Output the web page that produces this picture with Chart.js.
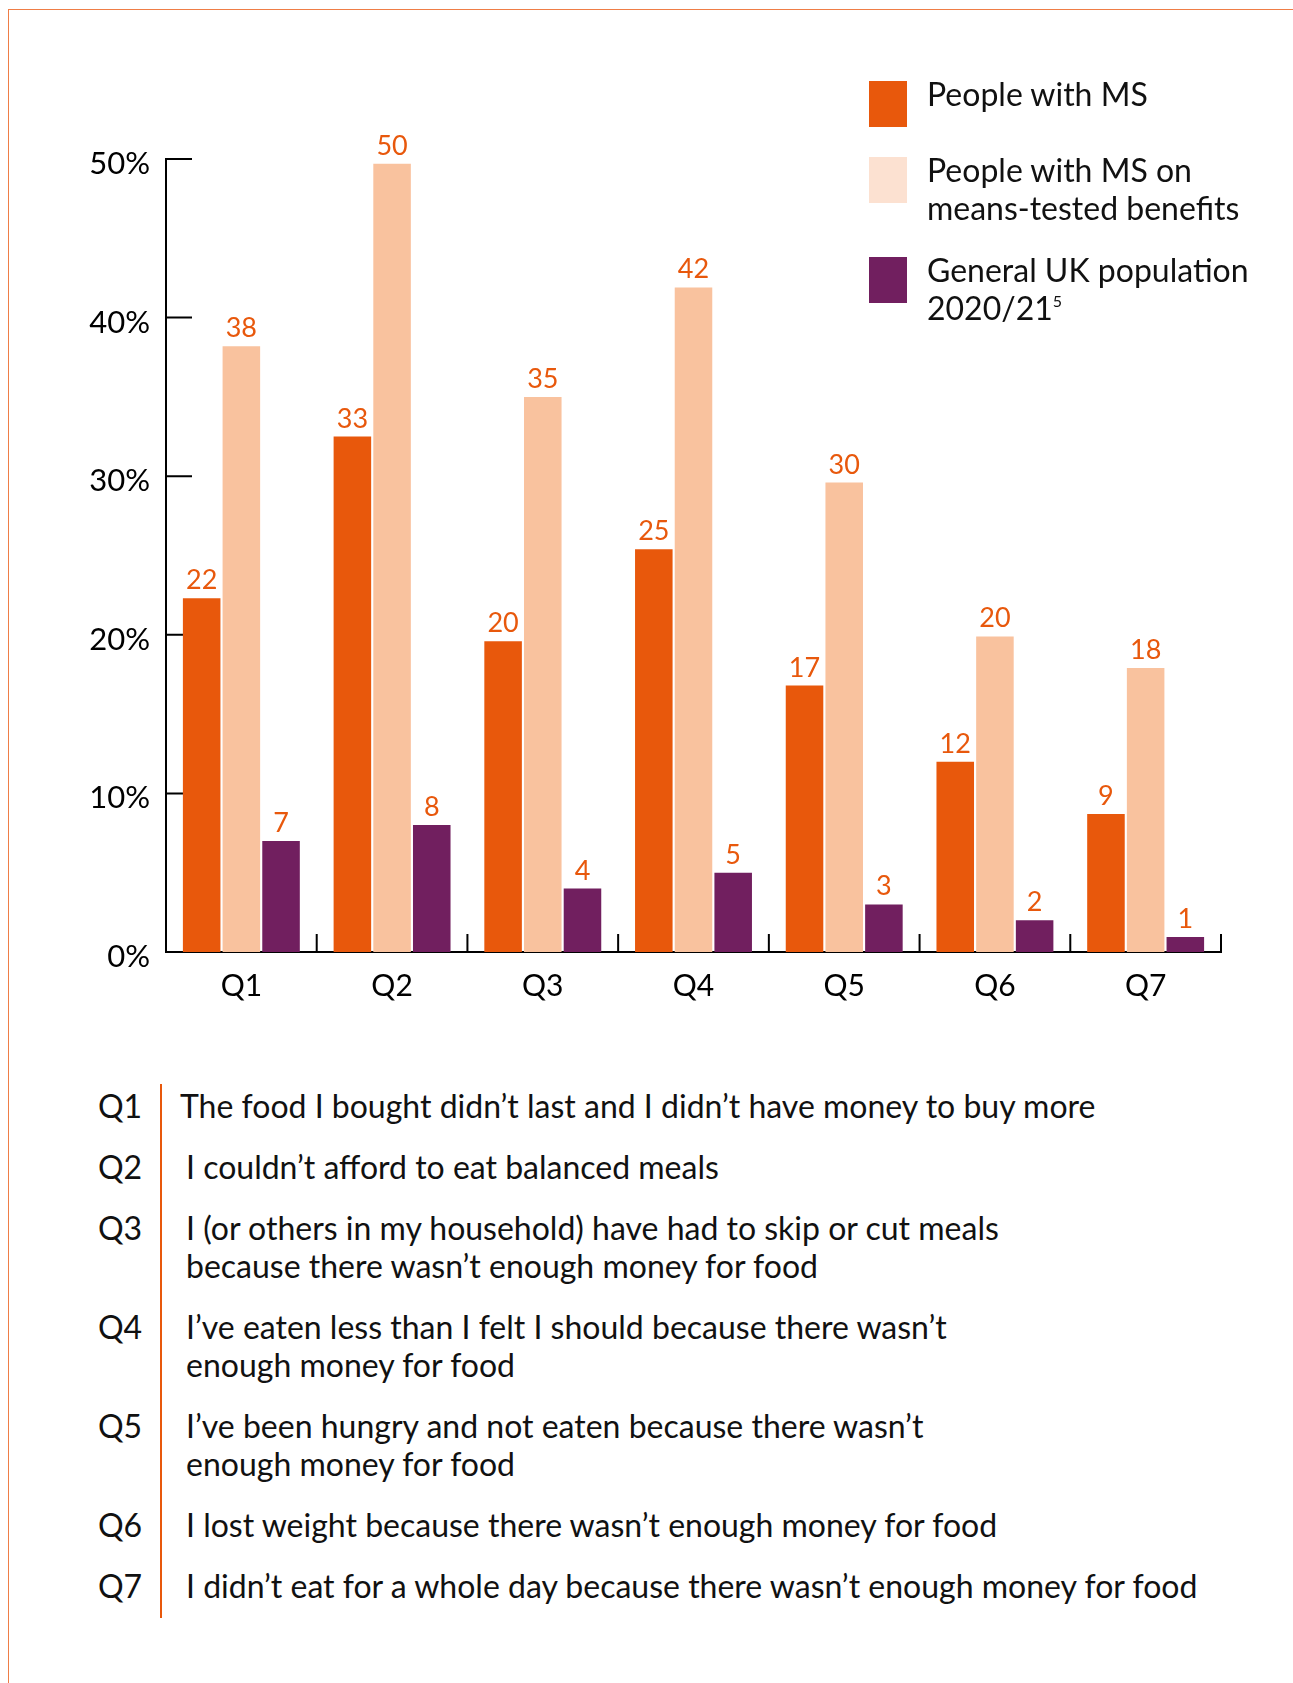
<!DOCTYPE html>
<html>
<head>
<meta charset="utf-8">
<script src="https://cdn.jsdelivr.net/npm/chart.js@4.4.0/dist/chart.umd.min.js"></script>
<style>
  body { margin: 0; background: #fff; font-family: Lato, sans-serif; color: #111; }
  #page { position: relative; width: 1293px; height: 1683px; overflow: hidden; }
  #frame { position: absolute; left: 8px; top: 9px; right: -10px; bottom: -10px;
           border-top: 1.5px solid #ef7d46; border-left: 1.5px solid #ef7d46; }
  #chart { position: absolute; left: 0; top: 0; }
  .leg { position: absolute; left: 869px; }
  .leg .sw { position: absolute; left: 0; top: 0; width: 38px; height: 46px; }
  .leg .tx { position: absolute; left: 58px; top: -6px; font-size: 32px; line-height: 38px; white-space: nowrap; }
  .leg sup { font-size: 16px; vertical-align: 13px; line-height: 0; }
  #notes { position: absolute; left: 0; top: 1087px; width: 1293px; }
  #notes .row { position: relative; margin-bottom: 23px; font-size: 32px; line-height: 38px; }
  #notes .code { position: absolute; left: 98px; top: 0; }
  #notes .txt { margin-left: 186px; white-space: pre; }
  #notes .row:first-child .txt { margin-left: 180px; }
  #rule { position: absolute; left: 160px; top: 1084px; width: 1.5px; height: 534px; background: #e8580c; }
</style>
</head>
<body>
<div id="page">
  <div id="frame"></div>
  <canvas id="chart" width="1293" height="1040"></canvas>
  <div id="legend"></div>
  <div id="rule"></div>
  <div id="notes"></div>
</div>
<script>
// categories and series (percent of respondents)
const categories = ['Q1', 'Q2', 'Q3', 'Q4', 'Q5', 'Q6', 'Q7'];
const peopleWithMS = [22.3, 32.5, 19.6, 25.4, 16.8, 12.0, 8.7];
const msOnBenefits = [38.2, 49.7, 35.0, 41.9, 29.6, 19.9, 17.9];
const generalUK = [7.0, 8.0, 4.0, 5.0, 3.0, 2.0, 0.95];
const yTicks = [0, 10, 20, 30, 40, 50];

const seriesNames = ['People with MS', 'People with MS on\nmeans-tested benefits', 'General UK population\n2020/21'];
const questions = [
  'The food I bought didn\u2019t last and I didn\u2019t have money to buy more',
  'I couldn\u2019t afford to eat balanced meals',
  'I (or others in my household) have had to skip or cut meals\nbecause there wasn\u2019t enough money for food',
  'I\u2019ve eaten less than I felt I should because there wasn\u2019t\nenough money for food',
  'I\u2019ve been hungry and not eaten because there wasn\u2019t\nenough money for food',
  'I lost weight because there wasn\u2019t enough money for food',
  'I didn\u2019t eat for a whole day because there wasn\u2019t enough money for food'
];

const ORANGE = '#e8580c';
const PEACH = '#f9c29e';
const PURPLE = '#711f5f';
const legendColors = [ORANGE, '#fce1d1', PURPLE];

// inward ticks on both axes, drawn beneath the bars
const axisMarks = {
  id: 'axisMarks',
  beforeDatasetsDraw(chart) {
    const { ctx, chartArea, scales: { x, y } } = chart;
    ctx.save();
    ctx.strokeStyle = '#000';
    ctx.lineWidth = 2;
    ctx.beginPath();
    yTicks.forEach(v => {
      const py = y.getPixelForValue(v);
      ctx.moveTo(chartArea.left, py);
      ctx.lineTo(chartArea.left + 26, py);
    });
    for (let i = 1; i <= categories.length; i++) {
      const px = i < categories.length
        ? (x.getPixelForValue(i - 1) + x.getPixelForValue(i)) / 2
        : chartArea.right;
      ctx.moveTo(px, chartArea.bottom - 18);
      ctx.lineTo(px, chartArea.bottom);
    }
    ctx.stroke();
    ctx.restore();
  },
  afterDatasetsDraw(chart) {
    const { ctx } = chart;
    ctx.save();
    ctx.fillStyle = ORANGE;
    ctx.font = '27px Lato';
    ctx.textAlign = 'center';
    ctx.textBaseline = 'alphabetic';
    chart.data.datasets.forEach((ds, di) => {
      chart.getDatasetMeta(di).data.forEach((bar, i) => {
        ctx.fillText(String(Math.round(ds.data[i])), bar.x, bar.y - 9);
      });
    });
    ctx.restore();
  }
};

const barOpts = { barPercentage: 0.946, categoryPercentage: 0.79, borderWidth: 0 };

new Chart(document.getElementById('chart').getContext('2d'), {
  type: 'bar',
  data: {
    labels: categories,
    datasets: [
      { label: seriesNames[0], data: peopleWithMS, backgroundColor: ORANGE, ...barOpts },
      { label: seriesNames[1], data: msOnBenefits, backgroundColor: PEACH, ...barOpts },
      { label: seriesNames[2], data: generalUK, backgroundColor: PURPLE, ...barOpts }
    ]
  },
  options: {
    responsive: false,
    animation: false,
    layout: { padding: { top: 159, right: 72, bottom: 28, left: 0 } },
    plugins: { legend: { display: false }, tooltip: { enabled: false } },
    scales: {
      x: {
        grid: { display: false, drawTicks: false },
        border: { display: true, color: '#000', width: 2 },
        ticks: { color: '#000', font: { family: 'Lato', size: 30 }, padding: 16 },
        afterFit(s) { s.height = 60; }
      },
      y: {
        min: 0,
        max: 50,
        grid: { display: false, drawTicks: false },
        border: { display: true, color: '#000', width: 2 },
        ticks: {
          stepSize: 10,
          color: '#000',
          font: { family: 'Lato', size: 31 },
          padding: 16,
          labelOffset: 5,
          callback: v => v + '%'
        },
        afterFit(s) { s.width = 166; }
      }
    }
  },
  plugins: [axisMarks]
});

// legend
const legendTops = [81, 157, 257];
const legend = document.getElementById('legend');
seriesNames.forEach((name, i) => {
  const item = document.createElement('div');
  item.className = 'leg';
  item.style.top = legendTops[i] + 'px';
  const sw = document.createElement('div');
  sw.className = 'sw';
  sw.style.background = legendColors[i];
  const tx = document.createElement('div');
  tx.className = 'tx';
  tx.innerHTML = name.replace('\n', '<br>') + (i === 2 ? '<sup>5</sup>' : '');
  item.appendChild(sw);
  item.appendChild(tx);
  legend.appendChild(item);
});

// question key
const notes = document.getElementById('notes');
categories.forEach((c, i) => {
  const row = document.createElement('div');
  row.className = 'row';
  const code = document.createElement('span');
  code.className = 'code';
  code.textContent = c;
  const txt = document.createElement('div');
  txt.className = 'txt';
  txt.textContent = questions[i];
  row.appendChild(code);
  row.appendChild(txt);
  notes.appendChild(row);
});
</script>
</body>
</html>
